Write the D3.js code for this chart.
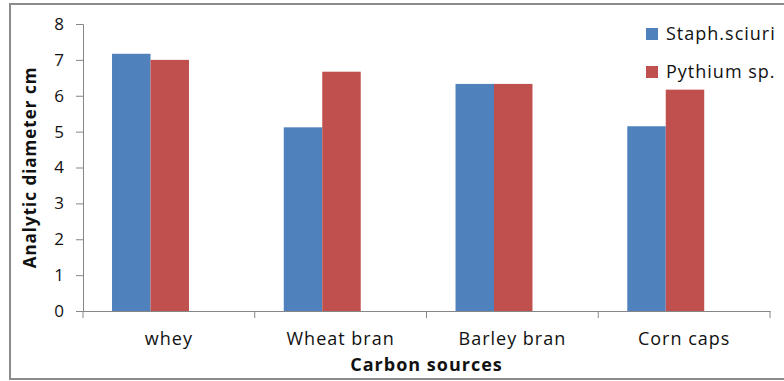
<!DOCTYPE html>
<html>
<head>
<meta charset="utf-8">
<script src="https://cdn.jsdelivr.net/npm/d3@7"></script>
<style>
    body { margin: 0; background: #fff; }
    svg { display: block; }
    text { font-family: "Open Sans", "Liberation Sans", sans-serif; fill: #111; }
</style>
</head>
<body>
<svg id="chart"></svg>
<script>
const categories = ["whey", "Wheat bran", "Barley bran", "Corn caps"];
const seriesNames = ["Staph.sciuri", "Pythium sp."];
const staphValues = [7.17, 5.12, 6.33, 5.15];
const pythiumValues = [7.0, 6.67, 6.33, 6.17];
const yTicks = [0, 1, 2, 3, 4, 5, 6, 7, 8];
const colors = ["#4f81bd", "#c0504d"];

const width = 784,
    height = 381,
    margin = { top: 24, right: 14, bottom: 70, left: 83 };

const svg = d3.select("#chart")
    .attr("width", width)
    .attr("height", height);

// outer frame
svg.append("rect")
    .attr("x", 10).attr("y", 4)
    .attr("width", width + 10).attr("height", 375)
    .style("fill", "none")
    .style("stroke", "#8c8c8c")
    .style("stroke-width", 2);

const x = d3.scaleBand()
    .domain(categories)
    .range([margin.left, width - margin.right]);

// bars sit left of the band centre, like the excel original
const bw = x.bandwidth();
const x1 = d3.scaleBand()
    .domain(seriesNames)
    .range([bw * 0.169, bw * 0.617]);

const y = d3.scaleLinear()
    .domain([0, 8])
    .range([height - margin.bottom, margin.top]);

const rows = categories.map((c, i) => ({
    cat: c,
    vals: [staphValues[i], pythiumValues[i]]
}));

const groups = svg.selectAll(".grp")
    .data(rows)
    .enter()
    .append("g")
    .attr("class", "grp")
    .attr("transform", d => "translate(" + x(d.cat) + ",0)");

groups.selectAll("rect")
    .data(d => d.vals.map((v, j) => ({ name: seriesNames[j], v: v, j: j })))
    .enter()
    .append("rect")
    .attr("x", d => x1(d.name))
    .attr("y", d => y(d.v))
    .attr("width", x1.bandwidth())
    .attr("height", d => y(0) - y(d.v))
    .style("fill", d => colors[d.j]);

// y axis
const yAxis = d3.axisLeft(y)
    .tickValues(yTicks)
    .tickSize(7)
    .tickPadding(12);

const gy = svg.append("g")
    .attr("transform", "translate(" + margin.left + ",0)")
    .call(yAxis);
gy.select(".domain").attr("stroke", "#868686");
gy.selectAll(".tick line").attr("stroke", "#868686");
gy.selectAll(".tick text")
    .attr("fill", "#111")
    .style("font-size", "17px")
    .style("font-family", "'Open Sans', sans-serif");

// x axis
const xAxis = d3.axisBottom(x)
    .tickSize(0)
    .tickPadding(21);

const gx = svg.append("g")
    .attr("transform", "translate(0," + y(0) + ")")
    .call(xAxis);
gx.select(".domain").attr("stroke", "#868686");
gx.selectAll(".tick text")
    .attr("fill", "#111")
    .style("font-size", "18px")
    .style("letter-spacing", "1px")
    .style("font-family", "'Open Sans', sans-serif");

// category separators
const seps = categories.map(c => x(c)).concat([x.range()[1]]);
gx.selectAll(".sep")
    .data(seps)
    .enter()
    .append("line")
    .attr("class", "sep")
    .attr("x1", d => d).attr("x2", d => d)
    .attr("y1", 0).attr("y2", 7)
    .attr("stroke", "#868686");

// axis titles
svg.append("text")
    .attr("x", (x.range()[0] + x.range()[1]) / 2)
    .attr("y", 371)
    .attr("text-anchor", "middle")
    .style("font-size", "18px")
    .style("letter-spacing", "1px")
    .style("font-weight", "bold")
    .text("Carbon sources");

svg.append("text")
    .attr("transform", "translate(36," + ((y(0) + y(8)) / 2) + ") rotate(-90)")
    .attr("text-anchor", "middle")
    .style("font-size", "17px")
    .style("letter-spacing", "1px")
    .style("font-weight", "bold")
    .text("Analytic diameter cm");

// legend
const legend = svg.selectAll(".leg")
    .data(seriesNames)
    .enter()
    .append("g")
    .attr("class", "leg")
    .attr("transform", (d, i) => "translate(646," + (28 + i * 38) + ")");

legend.append("rect")
    .attr("width", 12).attr("height", 12)
    .style("fill", (d, i) => colors[i]);

legend.append("text")
    .attr("x", 20)
    .attr("y", 12)
    .style("font-size", "18px")
    .style("letter-spacing", "1px")
    .text(d => d);
</script>
</body>
</html>
